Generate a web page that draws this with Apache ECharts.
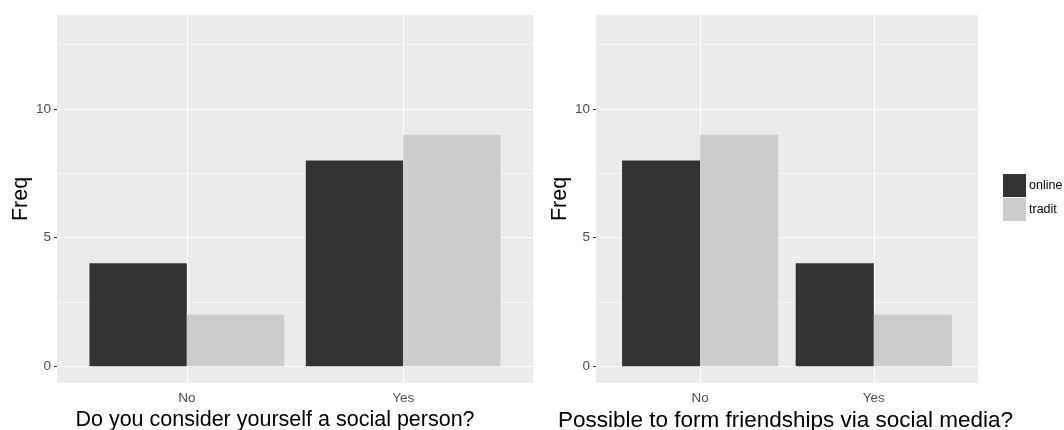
<!DOCTYPE html>
<html>
<head>
<meta charset="utf-8">
<script src="https://cdn.jsdelivr.net/npm/echarts@6/dist/echarts.min.js"></script>
<style>html,body{margin:0;padding:0;background:#fff}#c{width:1064px;height:430px}</style>
</head>
<body>
<div id="c"></div>
<script>
// ---- data ----
const categories = ['No', 'Yes'];
const seriesNames = ['online', 'tradit'];
const left_online = [4, 8];
const left_tradit = [2, 9];
const right_online = [8, 4];
const right_tradit = [9, 2];
const leftTitle = 'Do you consider yourself a social person?';
const rightTitle = 'Possible to form friendships via social media?';
const yTitle = 'Freq';
const yTicks = [0, 5, 10];
const yMinorTicks = [2.5, 7.5, 12.5];
const yLimits = [0, 13];

// ---- style ----
const FONT = 'Liberation Sans, Arial, sans-serif';
const colors = ['#333333', '#CCCCCC'];
const yExp = (yLimits[1] - yLimits[0]) * 0.05;
const xPos = categories.map((c, i) => i + 1);

const chart = echarts.init(document.getElementById('c'), null, {renderer: 'canvas'});

function panelAxes(idx, title, titlePad, titleSize) {
  const xAxis = {
    type: 'value', gridIndex: idx, min: 0.4, max: categories.length + 0.6,
    axisLine: {show: false},
    splitLine: {show: false},
    axisTick: {show: true, length: 3, lineStyle: {color: '#333333', width: 1}, customValues: xPos},
    axisLabel: {customValues: xPos, color: '#4D4D4D', fontFamily: FONT, fontSize: 13.5, margin: 8,
      formatter: v => categories[Math.round(v) - 1] || ''},
    name: title, nameLocation: 'middle', nameGap: 26, nameMoveOverlap: false,
    nameTextStyle: {color: '#000', fontFamily: FONT, fontSize: titleSize, padding: titlePad}
  };
  const yAxis = {
    type: 'value', gridIndex: idx, min: yLimits[0] - yExp, max: yLimits[1] + yExp,
    axisLine: {show: false},
    splitLine: {show: false},
    axisTick: {show: true, length: 3, lineStyle: {color: '#333333', width: 1}, customValues: yTicks},
    axisLabel: {customValues: yTicks, color: '#4D4D4D', fontFamily: FONT, fontSize: 13.5, margin: 6},
    name: yTitle, nameLocation: 'middle', nameGap: 25, nameRotate: 90, nameMoveOverlap: false,
    nameTextStyle: {color: '#000', fontFamily: FONT, fontSize: 21.5}
  };
  return {xAxis, yAxis};
}

function gridSeries(idx) {
  const data = [];
  yMinorTicks.forEach(v => data.push({yAxis: v, lineStyle: {width: 0.6, color: '#FFFFFF'}}));
  yTicks.forEach(v => data.push({yAxis: v, lineStyle: {width: 1.1, color: '#FFFFFF'}}));
  xPos.forEach(v => data.push({xAxis: v, lineStyle: {width: 1.1, color: '#FFFFFF'}}));
  return {
    type: 'line', xAxisIndex: idx, yAxisIndex: idx, data: [], z: 1, silent: true,
    markLine: {silent: true, z: 1, symbol: ['none', 'none'], label: {show: false},
      lineStyle: {type: 'solid', color: '#FFFFFF'}, emphasis: {disabled: true}, animation: false, data}
  };
}

function barSeries(idx, name, values, color) {
  return {
    type: 'bar', name, xAxisIndex: idx, yAxisIndex: idx, z: 3,
    data: values.map((v, i) => [xPos[i], v]),
    itemStyle: {color}, barGap: '0%', barCategoryGap: '10%'
  };
}

const L = panelAxes(0, leftTitle, [0, 40, 0, 0], 21.5);
const R = panelAxes(1, rightTitle, [0, 3, 0, 0], 22.5);

chart.setOption({
  animation: false,
  backgroundColor: '#FFFFFF',
  textStyle: {fontFamily: FONT},
  grid: [
    {left: 57, top: 15, width: 476, height: 368, show: true, backgroundColor: '#EBEBEB', borderWidth: 0, outerBoundsMode: 'none', containLabel: false},
    {left: 596, top: 15, width: 382, height: 368, show: true, backgroundColor: '#EBEBEB', borderWidth: 0, outerBoundsMode: 'none', containLabel: false}
  ],
  xAxis: [L.xAxis, R.xAxis],
  yAxis: [L.yAxis, R.yAxis],
  legend: {
    data: seriesNames, orient: 'vertical', left: 1003, top: 174, padding: 0, itemWidth: 23, itemHeight: 23, itemGap: 1,
    icon: 'rect', textStyle: {color: '#000', fontFamily: FONT, fontSize: 12.5, padding: [6, 0, 0, -2]}
  },
  series: [
    gridSeries(0), gridSeries(1),
    barSeries(0, seriesNames[0], left_online, colors[0]),
    barSeries(0, seriesNames[1], left_tradit, colors[1]),
    barSeries(1, seriesNames[0], right_online, colors[0]),
    barSeries(1, seriesNames[1], right_tradit, colors[1])
  ]
});
</script>
</body>
</html>
